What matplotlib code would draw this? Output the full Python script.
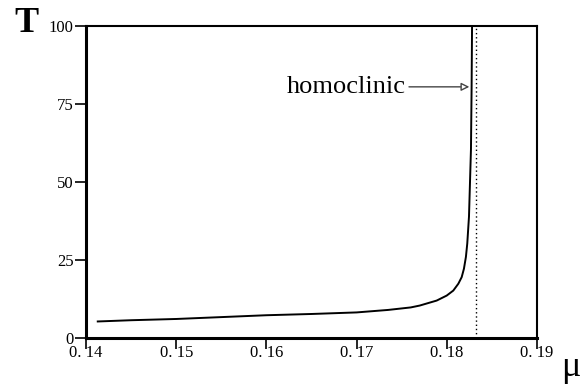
import matplotlib
matplotlib.use("Agg")
import matplotlib.pyplot as plt

mu = [0.1413, 0.145, 0.150, 0.155, 0.160, 0.165, 0.170, 0.1735, 0.1760, 0.1770,
      0.17888, 0.17999, 0.18072, 0.18128, 0.18165, 0.18190, 0.18212, 0.18227,
      0.18246, 0.18257, 0.18268, 0.18275, 0.1828]
T = [5.3, 5.7, 6.1, 6.7, 7.3, 7.7, 8.2, 9.0, 9.8, 10.4,
     12.0, 13.6, 15.2, 17.4, 19.5, 22.2, 26.0, 30.3,
     38.9, 49.7, 60.5, 80.0, 100.0]
mu_homoclinic = 0.18324
xticks = [0.14, 0.15, 0.16, 0.17, 0.18, 0.19]
xticklabels = ["0. 14", "0. 15", "0. 16", "0. 17", "0. 18", "0. 19"]
yticks = [0, 25, 50, 75, 100]
yticklabels = ["0", "25", "50", "75", "100"]

plt.rcParams['font.family'] = ['Liberation Serif', 'DejaVu Serif']

fig = plt.figure(figsize=(5.84, 3.87), dpi=100)
ax = fig.add_axes([0.1473, 0.1266, 0.7722, 0.8062])

ax.plot(mu, T, color='black', lw=1.4)
ax.axvline(mu_homoclinic, color='black', lw=1.0, ls=(0, (1, 2)))

ax.set_xlim(0.14, 0.19)
ax.set_ylim(0, 100)
ax.set_xticks(xticks)
ax.set_xticklabels(xticklabels, fontsize=12)
ax.set_yticks(yticks)
ax.set_yticklabels(yticklabels, fontsize=12)
ax.tick_params(axis='x', direction='out', length=8, width=1.2, pad=-3)
ax.tick_params(axis='y', direction='out', length=8, width=1.2, pad=1)
for s in ['left', 'bottom']:
    ax.spines[s].set_linewidth(2.2)
for s in ['top', 'right']:
    ax.spines[s].set_linewidth(1.5)

ax.annotate('homoclinic', xy=(0.1825, 80.5), xytext=(0.1755, 80.5),
            fontsize=19, va='center', ha='right',
            arrowprops=dict(arrowstyle='-|>', color='#444444', lw=1.0,
                            fc='white', mutation_scale=12, shrinkA=0, shrinkB=0))

fig.text(0.045, 0.94, 'T', fontsize=26, fontweight='bold', ha='center', va='center')
fig.text(0.978, 0.05, 'μ', fontsize=26, ha='center', va='center')

fig.savefig('out.png', dpi=100)
